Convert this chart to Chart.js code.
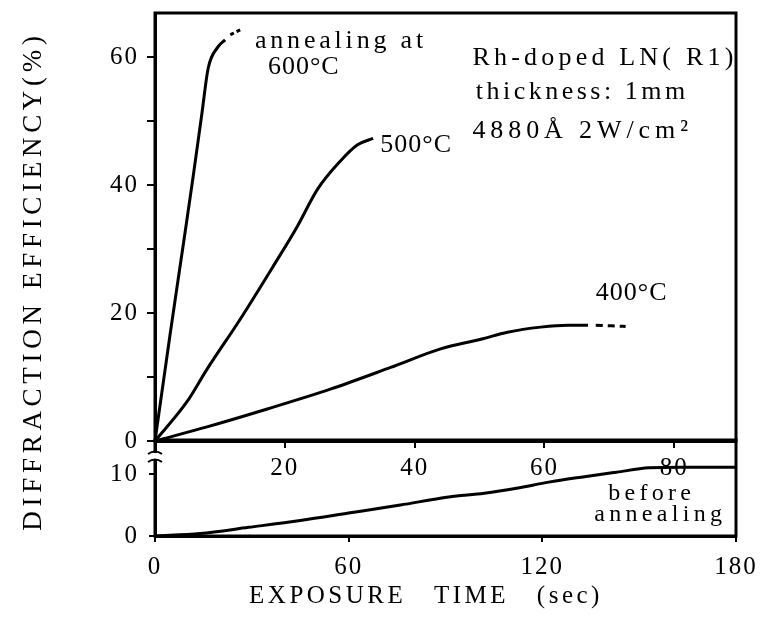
<!DOCTYPE html>
<html>
<head>
<meta charset="utf-8">
<script src="https://cdn.jsdelivr.net/npm/chart.js@4"></script>
<style>
html,body{margin:0;padding:0;background:#fff;}
#wrap{position:relative;width:768px;height:617px;background:#fff;overflow:hidden;}
canvas{position:absolute;left:0;top:0;}
</style>
</head>
<body>
<div id="wrap">
<canvas id="lower" width="768" height="617"></canvas>
<canvas id="upper" width="768" height="617"></canvas>
</div>
<script>
// ---------- data ----------
// upper panel: exposure time (sec) vs diffraction efficiency (%)
const time600 = [0, 2.3, 4.4, 5.9, 7.2, 8.2, 9.7, 10.8];
const eff600  = [0, 16.5, 31, 41.5, 51, 58.3, 61.6, 62.7];
const time600Dash = [11.6, 13.4];
const eff600Dash  = [63.5, 64.4];

const time500 = [0, 4.9, 8.0, 13.1, 18.2, 21.9, 25.0, 28.5, 31.2, 33.6];
const eff500  = [0, 6.1, 11.2, 19.0, 27.3, 33.5, 39.3, 43.7, 46.3, 47.3];

const time400 = [0, 8.0, 17.3, 27.0, 36.3, 44.0, 50.2, 54.3, 59.4, 63.6, 66.7];
const eff400  = [0, 2.2, 5.0, 8.1, 11.5, 14.4, 15.9, 17.0, 17.8, 18.1, 18.1];
const time400Dash = [67.9, 72.5];
const eff400Dash  = [18.1, 17.9];

// lower panel: before annealing
const timeBefore = [0, 14, 29, 45, 60, 76, 91, 102, 112, 122, 132, 143, 153, 163, 180];
const effBefore  = [0, 0.4, 1.4, 2.5, 3.7, 5.0, 6.3, 6.9, 7.7, 8.7, 9.5, 10.3, 11.0, 11.1, 11.1];

// tick labels
const upperXTicks = [20, 40, 60, 80];
const upperYTicks = [0, 20, 40, 60];
const lowerXTicks = [0, 60, 120, 180];
const lowerYTicks = [0, 10];

// texts
const upperNotes = ['annealing at', '600°C', '500°C', '400°C', 'Rh-doped LN( R1)', 'thickness: 1mm', '4880Å 2W/cm²'];
const lowerNotes = ['before', 'annealing'];
const yTitle = 'DIFFRACTION EFFICIENCY(%)';
const xTitle = 'EXPOSURE TIME (sec)';

// ---------- placement of the notes (data units) ----------
const upperNoteX = [15.4, 17.4, 34.7, 67.9, 48.9, 49.4, 48.9];
const upperNoteY = [61.5, 57.3, 45.1, 22.0, 58.7, 53.4, 47.3];
const upperNoteSpacing = [3.8, 1, 1, 1, 4.2, 3.5, 4.9];
const lowerNoteX = [140.4, 136.1];
const lowerNoteY = [5.8, 2.5];
const lowerNoteSpacing = [4.3, 4.3];

const SERIF = '"Liberation Serif", "DejaVu Serif", serif';
const pts = (xs, ys) => xs.map((x, i) => ({x: x, y: ys[i]}));

const framePlugin = {
  id: 'frame',
  beforeDraw(chart) { chart.ctx.letterSpacing = '2px'; },
  afterDraw(chart) {
    const ctx = chart.ctx, a = chart.chartArea;
    ctx.save();
    ctx.strokeStyle = '#000';
    ctx.lineWidth = 3;
    ctx.strokeRect(a.left, a.top, a.right - a.left, a.bottom - a.top);
    ctx.restore();
  }
};

function notesPlugin(id, texts, xs, ys, spacing, size) {
  return {
    id: id,
    afterDatasetsDraw(chart) {
      const ctx = chart.ctx, sx = chart.scales.x, sy = chart.scales.y;
      ctx.save();
      ctx.fillStyle = '#000';
      ctx.textAlign = 'left';
      ctx.textBaseline = 'alphabetic';
      ctx.font = size + 'px ' + SERIF;
      texts.forEach((t, i) => {
        ctx.letterSpacing = spacing[i] + 'px';
        ctx.fillText(t, sx.getPixelForValue(xs[i]), sy.getPixelForValue(ys[i]));
      });
      ctx.restore();
    }
  };
}

const titlesPlugin = {
  id: 'titles',
  afterDraw(chart) {
    const ctx = chart.ctx, a = chart.chartArea;
    ctx.save();
    // axis break marks on the left axis
    const bx = a.left, by = a.top + 12;
    ctx.fillStyle = '#fff';
    ctx.fillRect(bx - 3, by + 1, 6, 6);
    ctx.strokeStyle = '#000';
    ctx.lineWidth = 2;
    [by, by + 8].forEach(yy => {
      ctx.beginPath();
      ctx.moveTo(bx - 7, yy + 2);
      ctx.quadraticCurveTo(bx, yy - 3, bx + 7, yy + 2);
      ctx.stroke();
    });
    // titles
    ctx.fillStyle = '#000';
    ctx.font = '25px ' + SERIF;
    ctx.letterSpacing = '3.5px';
    ctx.wordSpacing = '18px';
    ctx.textAlign = 'center';
    ctx.textBaseline = 'alphabetic';
    ctx.fillText(xTitle, 426, 603);
    ctx.wordSpacing = '0px';
    ctx.translate(34, 281);
    ctx.rotate(-Math.PI / 2);
    ctx.textBaseline = 'middle';
    ctx.font = '27px ' + SERIF;
    ctx.letterSpacing = '4.7px';
    ctx.fillText(yTitle, 0, 0);
    ctx.restore();
  }
};

const lineEl = {borderColor: '#000', borderWidth: 3, tension: 0.3, cubicInterpolationMode: 'monotone', borderCapStyle: 'butt', fill: false};
const tickFont = {family: SERIF, size: 25};
function axis(min, max, step, labels, tickLen, pad, fitFn) {
  return {
    type: 'linear', min: min, max: max,
    afterFit: s => {
      fitFn(s);
      s.paddingTop = 0; s.paddingBottom = 0; s.paddingLeft = 0; s.paddingRight = 0;
    },
    ticks: {
      stepSize: step, includeBounds: false, autoSkip: false, maxRotation: 0,
      padding: pad, color: '#000', font: tickFont,
      callback: v => labels.includes(v) ? String(v) : ''
    },
    grid: {drawOnChartArea: false, drawTicks: true, tickLength: tickLen, color: '#000', lineWidth: 2},
    border: {display: true, color: '#000', width: 3}
  };
}

new Chart(document.getElementById('lower'), {
  type: 'line',
  data: {datasets: [
    {data: pts(timeBefore, effBefore)}
  ]},
  options: {
    responsive: false, animation: false, devicePixelRatio: 1,
    layout: {padding: {left: 0, top: 440, right: 32, bottom: 31}, autoPadding: false},
    elements: {point: {radius: 0}, line: lineEl},
    plugins: {legend: {display: false}, tooltip: {enabled: false}, title: {display: false}},
    scales: {
      x: axis(0, 180, 60, lowerXTicks, 6, 10, s => { s.height = 50; }),
      y: axis(0, 15.5, 10, lowerYTicks, 6, 10, s => { s.width = 155; })
    }
  },
  plugins: [framePlugin, notesPlugin('lowerNotes', lowerNotes, lowerNoteX, lowerNoteY, lowerNoteSpacing, 24), titlesPlugin]
});

new Chart(document.getElementById('upper'), {
  type: 'line',
  data: {datasets: [
    {data: pts(time600, eff600)},
    {data: pts(time600Dash, eff600Dash), borderDash: [4, 3]},
    {data: pts(time500, eff500)},
    {data: pts(time400, eff400)},
    {data: pts(time400Dash, eff400Dash), borderDash: [7, 5]}
  ]},
  options: {
    responsive: false, animation: false, devicePixelRatio: 1,
    layout: {padding: {left: 0, top: 13, right: 32, bottom: 136}, autoPadding: false},
    elements: {point: {radius: 0}, line: lineEl},
    plugins: {legend: {display: false}, tooltip: {enabled: false}, title: {display: false}},
    scales: {
      x: axis(0, 89.5, 20, upperXTicks, 7, 5, s => { s.height = 40; }),
      y: axis(0, 66.9, 10, upperYTicks, 8, 8, s => { s.width = 155; })
    }
  },
  plugins: [framePlugin, notesPlugin('upperNotes', upperNotes, upperNoteX, upperNoteY, upperNoteSpacing, 26)]
});
</script>
</body>
</html>
